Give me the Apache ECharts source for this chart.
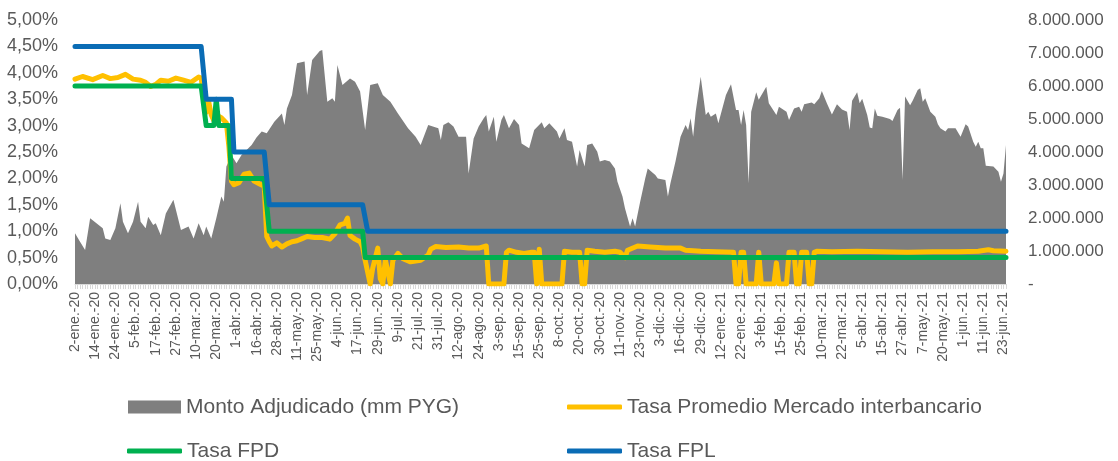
<!DOCTYPE html>
<html><head><meta charset="utf-8">
<script src="https://cdn.jsdelivr.net/npm/echarts@6/dist/echarts.min.js"></script>
<style>html,body{margin:0;padding:0;background:#fff}#c{width:1118px;height:461px}</style>
</head><body><div id="c"></div><script>
const tickLabels = ["2-ene.-20","14-ene.-20","24-ene.-20","5-feb.-20","17-feb.-20","27-feb.-20","10-mar.-20","20-mar.-20","1-abr.-20","16-abr.-20","28-abr.-20","11-may.-20","25-may.-20","4-jun.-20","17-jun.-20","29-jun.-20","9-jul.-20","21-jul.-20","31-jul.-20","12-ago.-20","24-ago.-20","3-sep.-20","15-sep.-20","25-sep.-20","8-oct.-20","20-oct.-20","30-oct.-20","11-nov.-20","23-nov.-20","3-dic.-20","16-dic.-20","29-dic.-20","12-ene.-21","22-ene.-21","3-feb.-21","15-feb.-21","25-feb.-21","10-mar.-21","22-mar.-21","5-abr.-21","15-abr.-21","27-abr.-21","7-may.-21","20-may.-21","1-jun.-21","11-jun.-21","23-jun.-21"];
const dayCount = 370;
const labelEvery = 8;

// [day index, PYG]
const monto = [[0,1540000],[2,1280000],[4,1030000],[6,1990000],[11,1690000],[12,1380000],[14,1330000],[16,1690000],[18,2450000],[19,1890000],[21,1540000],[23,1890000],[25,2490000],[26,1890000],[28,1690000],[29,2040000],[31,1790000],[32,1840000],[34,1480000],[36,2140000],[39,2550000],[42,1640000],[45,1740000],[47,1380000],[49,1840000],[51,1480000],[52,1740000],[54,1380000],[56,1990000],[58,2650000],[59,2490000],[60,3560000],[62,3910000],[64,3660000],[66,3910000],[70,4210000],[72,4450000],[74,4620000],[76,4570000],[79,4920000],[82,5170000],[83,4820000],[84,5320000],[86,5730000],[88,6690000],[91,6740000],[92,5730000],[94,6790000],[97,7060000],[98,7090000],[100,5520000],[102,5630000],[103,5520000],[104,6640000],[106,6030000],[109,6230000],[111,6130000],[113,5830000],[115,4670000],[117,6030000],[120,6080000],[122,5730000],[125,5520000],[128,5170000],[132,4720000],[135,4460000],[137,4210000],[140,4820000],[144,4720000],[145,4360000],[146,4820000],[148,4900000],[150,4770000],[152,4460000],[155,4460000],[156,3350000],[158,4410000],[160,4770000],[162,5020000],[163,5120000],[164,4620000],[166,5070000],[167,4310000],[169,4970000],[170,5120000],[172,4720000],[174,5000000],[176,4820000],[177,4260000],[180,4110000],[182,4670000],[185,4900000],[186,4720000],[188,4870000],[191,4620000],[192,4410000],[194,4720000],[195,4360000],[197,4310000],[199,3560000],[200,4060000],[202,3560000],[203,4210000],[205,4260000],[207,4010000],[208,3710000],[210,3760000],[212,3710000],[214,3500000],[215,3100000],[217,2650000],[218,2290000],[220,1740000],[221,1990000],[222,1740000],[224,2490000],[226,3200000],[227,3500000],[230,3300000],[231,3200000],[234,3150000],[235,2650000],[236,3050000],[238,3710000],[240,4460000],[242,4820000],[243,4670000],[244,5020000],[245,4460000],[246,5220000],[248,6280000],[250,5120000],[251,5220000],[252,5070000],[254,5170000],[255,4870000],[258,5730000],[260,6050000],[262,5270000],[263,5270000],[264,4820000],[265,5270000],[266,4820000],[267,3050000],[268,5220000],[270,5810000],[271,5580000],[274,5980000],[275,5480000],[278,5120000],[279,5370000],[282,5220000],[283,4970000],[285,5320000],[287,5370000],[288,5220000],[289,5450000],[292,5500000],[293,5450000],[295,5630000],[296,5850000],[298,5480000],[300,5140000],[302,5450000],[304,5290000],[306,5220000],[307,4670000],[308,5550000],[310,5810000],[311,5480000],[312,5610000],[314,5120000],[315,4740000],[316,4720000],[317,5320000],[318,5100000],[320,5070000],[323,5000000],[324,4940000],[326,5270000],[327,5340000],[328,3150000],[329,5680000],[331,5420000],[332,5550000],[334,5880000],[335,5930000],[336,5520000],[337,5630000],[339,5220000],[341,5070000],[342,4840000],[343,4720000],[345,4620000],[346,4720000],[349,4720000],[351,4460000],[353,4840000],[354,4770000],[356,4310000],[357,4160000],[358,4310000],[359,4110000],[360,4110000],[361,3580000],[364,3560000],[366,3400000],[367,3100000],[368,3350000],[369,4210000]];

// [day index, %]
const tasaPromedio = [[0,3.88],[3,3.93],[7,3.87],[11,3.95],[14,3.89],[17,3.91],[20,3.97],[23,3.88],[26,3.86],[28,3.82],[30,3.74],[32,3.78],[34,3.86],[37,3.84],[40,3.90],[43,3.86],[46,3.82],[49,3.92],[50,3.90],
[51,3.55],[52,3.25],[53,3.45],[54,3.2],[55,3.1],[56,3.2],[58,3.15],[60,3.05],[61,2.6],[62,1.95],[63,1.88],[65,1.92],[67,2.08],[69,2.1],[71,1.95],[73,1.9],[75,1.85],
[76,0.9],[77,0.8],[78,0.72],[80,0.78],[82,0.7],[84,0.76],[86,0.8],[88,0.82],[90,0.86],[92,0.9],[95,0.88],[98,0.88],[101,0.85],[103,0.95],[105,1.12],[107,1.15],[108,1.25],[109,0.92],[111,0.85],[113,0.8],[114,0.7],
[115,0.45],[117,0],[118,0.3],[120,0.68],[121,0.1],[122,0],[123,0.46],[125,0],[126,0.45],[128,0.58],[130,0.48],[133,0.42],[137,0.45],[140,0.55],[141,0.66],[143,0.71],[147,0.69],[152,0.7],[156,0.68],[160,0.68],[163,0.72],
[164,0],[170,0],[171,0.6],[172,0.64],[175,0.6],[178,0.58],[181,0.6],[182,0.6],[183,0],[184,0.66],[185,0],[193,0],[194,0.62],[197,0.6],[200,0.6],[201,0],[202,0],[203,0.64],[206,0.62],[210,0.6],[214,0.62],
[216,0.6],[218,0.5],[219,0.64],[223,0.72],[228,0.7],[234,0.68],[240,0.68],[242,0.64],[248,0.62],[254,0.61],[261,0.6],
[262,0],[263,0],[264,0.6],[265,0.6],[266,0],[270,0],[271,0.6],[272,0],[277,0],[278,0.4],[279,0],[282,0],[283,0.6],[285,0.6],[286,0],[287,0],[288,0.6],[290,0.6],[291,0],[292,0],[293,0.6],[294,0.62],
[300,0.61],[310,0.62],[320,0.61],[330,0.6],[340,0.61],[350,0.61],[358,0.62],[362,0.65],[364,0.63],[369,0.62]];

const tasaFPD = [[0,3.75],[50,3.75],[52,3.0],[55,3.0],[56,3.5],[57,3.0],[61,3.0],[62,2.0],[75,2.0],[77,1.0],[114,1.0],[115,0.5],[369,0.5]];
const tasaFPL = [[0,4.5],[50,4.5],[52,3.5],[62,3.5],[63,2.5],[75,2.5],[77,1.5],[114,1.5],[116,1.0],[369,1.0]];

const names = ['Monto Adjudicado (mm PYG)','Tasa Promedio Mercado interbancario','Tasa FPD','Tasa FPL'];
const colors = ['#7f7f7f','#ffc000','#00b050','#0a6cb5'];
const days = Array.from({length: dayCount}, (_, i) => String(i));
const FONT = 'Liberation Sans';
const TXT = '#595959';

function legendItem(name, left, top, isArea) {
  return {
    orient: 'horizontal', left: left, top: top, padding: 0,
    itemWidth: isArea ? 53 : 55, itemHeight: isArea ? 13 : 5,
    icon: isArea ? 'rect' : 'roundRect',
    textStyle: {color: TXT, fontFamily: FONT, fontSize: 21, lineHeight: 22},
    data: [name]
  };
}

const chart = echarts.init(document.getElementById('c'), null, {renderer: 'canvas'});
chart.setOption({
  animation: false,
  backgroundColor: '#fff',
  grid: {left: 75, right: 112, top: 20, bottom: 177, containLabel: false},
  legend: [
    legendItem(names[0], 128, 396, true),
    legendItem(names[1], 567, 396, false),
    legendItem(names[2], 127, 440, false),
    legendItem(names[3], 567, 440, false)
  ],
  xAxis: {
    type: 'category', data: days, boundaryGap: false,
    axisLine: {lineStyle: {color: '#d9d9d9', width: 1}},
    axisTick: {show: true, interval: 0, length: 5, lineStyle: {color: '#d9d9d9'}},
    axisLabel: {interval: 0, rotate: 90, margin: 8, color: TXT, fontFamily: FONT, fontSize: 14,
      formatter: (v, idx) => (idx % labelEvery === 0 && tickLabels[idx / labelEvery]) ? tickLabels[idx / labelEvery] : ''}
  },
  yAxis: [
    {type: 'value', min: 0, max: 5, interval: 0.5, splitLine: {show: false},
     axisLine: {show: false}, axisTick: {show: false},
     axisLabel: {margin: 17, color: TXT, fontFamily: FONT, fontSize: 18,
       formatter: v => v.toFixed(2).replace('.', ',') + '%'}},
    {type: 'value', min: 0, max: 8000000, interval: 1000000, splitLine: {show: false},
     axisLine: {show: false}, axisTick: {show: false},
     axisLabel: {margin: 22, color: TXT, fontFamily: FONT, fontSize: 17,
       formatter: v => v === 0 ? '-' : String(v).replace(/\B(?=(\d{3})+(?!\d))/g, '.')}}
  ],
  series: [
    {name: names[0], type: 'line', yAxisIndex: 1, data: monto, symbol: 'none', showSymbol: false,
     lineStyle: {width: 0}, itemStyle: {color: colors[0]}, areaStyle: {color: colors[0], opacity: 1}, z: 1},
    {name: names[1], type: 'line', yAxisIndex: 0, data: tasaPromedio, symbol: 'none', showSymbol: false,
     itemStyle: {color: colors[1]}, lineStyle: {color: colors[1], width: 5, cap: 'round', join: 'round'}, z: 2},
    {name: names[2], type: 'line', yAxisIndex: 0, data: tasaFPD, symbol: 'none', showSymbol: false,
     itemStyle: {color: colors[2]}, lineStyle: {color: colors[2], width: 5, cap: 'round', join: 'round'}, z: 3},
    {name: names[3], type: 'line', yAxisIndex: 0, data: tasaFPL, symbol: 'none', showSymbol: false,
     itemStyle: {color: colors[3]}, lineStyle: {color: colors[3], width: 5, cap: 'round', join: 'round'}, z: 4}
  ]
});
</script></body></html>
